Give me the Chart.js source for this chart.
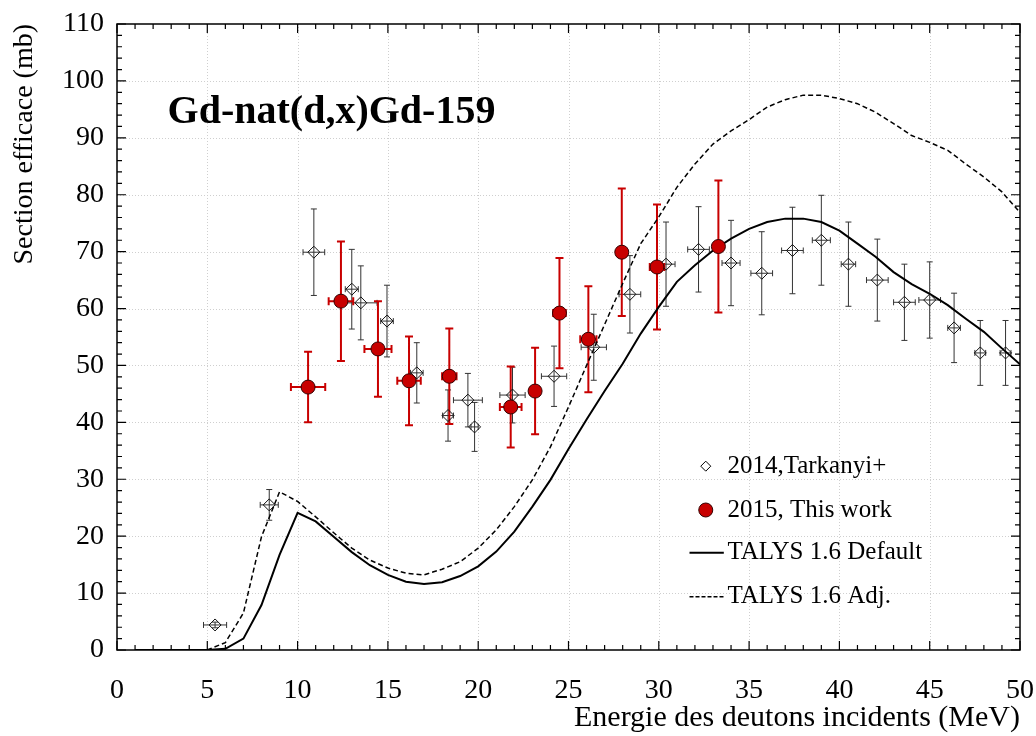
<!DOCTYPE html>
<html>
<head>
<meta charset="utf-8">
<script src="https://cdn.jsdelivr.net/npm/chart.js@4.4.1/dist/chart.umd.min.js"></script>
<style>
html, body { margin: 0; padding: 0; background: #fff; }
</style>
</head>
<body>
<canvas id="chart" width="1036" height="736"></canvas>
<script>
// TALYS 1.6 curves, 1 MeV steps
const talysE = [1, 2, 3, 4, 5, 6, 7, 8, 9, 10, 11, 12, 13, 14, 15, 16, 17, 18, 19, 20,
    21, 22, 23, 24, 25, 26, 27, 28, 29, 30, 31, 32, 33, 34, 35, 36, 37, 38, 39, 40,
    41, 42, 43, 44, 45, 46, 47, 48, 49, 50];
const talysDefault = [0, 0, 0, 0, 0, 0.2, 2.0, 7.9, 16.7, 24.1, 22.6, 19.9, 17.2, 14.9, 13.2, 12.0, 11.6, 11.9, 13.0, 14.7,
    17.3, 20.8, 25.2, 29.9, 35.3, 40.5, 45.5, 50.3, 55.6, 60.3, 64.7, 67.6, 70.2, 72.3, 74.0, 75.2, 75.8, 75.8, 75.2, 73.7,
    71.4, 69.1, 66.4, 64.3, 62.6, 60.6, 58.2, 55.9, 53.0, 50.2];
const talysAdj = [0, 0, 0, 0, 0, 1.3, 6.5, 19.9, 27.8, 26.1, 23.4, 20.6, 17.9, 15.8, 14.4, 13.5, 13.2, 14.2, 15.5, 17.9,
    21.1, 25.2, 29.9, 35.7, 42.7, 50.0, 57.2, 64.4, 71.4, 76.1, 81.3, 85.4, 88.9, 91.2, 93.2, 95.4, 96.7, 97.5, 97.5, 96.9,
    96.0, 94.5, 92.5, 90.4, 89.2, 87.8, 85.4, 83.1, 80.5, 76.9];

// 2014, Tarkanyi+
const tarkanyiE = [5.43, 8.43, 10.9, 13.0, 13.5, 14.95, 16.6, 18.33, 19.43, 19.8, 21.9, 24.2, 26.4, 28.4,
    30.4, 32.2, 34.0, 35.7, 37.4, 39.0, 40.5, 42.1, 43.6, 45.0, 46.35, 47.8, 49.2];
const tarkanyiCS = [4.4, 25.5, 69.9, 63.4, 61.0, 57.8, 48.7, 41.2, 43.9, 39.2, 44.8, 48.1, 53.2, 62.5,
    67.8, 70.4, 68.0, 66.2, 70.2, 72.0, 67.8, 65.0, 61.1, 61.5, 56.6, 52.2, 52.2];
const tarkanyiDE = [0.64, 0.5, 0.6, 0.36, 0.9, 0.35, 0.35, 0.3, 0.8, 0.2, 0.7, 0.7, 0.7, 0.6,
    0.5, 0.6, 0.5, 0.6, 0.6, 0.5, 0.4, 0.6, 0.6, 0.6, 0.35, 0.3, 0.3];
const tarkanyiDCS = [0.5, 2.7, 7.6, 7.0, 6.5, 6.3, 5.3, 4.5, 4.7, 4.3, 4.9, 5.3, 5.8, 6.8,
    7.4, 7.5, 7.5, 7.3, 7.6, 7.9, 7.4, 7.2, 6.7, 6.7, 6.1, 5.7, 5.7];

// 2015, This work
const workE = [10.58, 12.4, 14.45, 16.17, 18.4, 21.8, 23.15, 24.5, 26.1, 27.95, 29.9, 33.3];
const workCS = [46.2, 61.3, 52.9, 47.3, 48.1, 42.7, 45.5, 59.2, 54.6, 69.9, 67.3, 70.9];
const workDE = [0.95, 0.68, 0.75, 0.65, 0.4, 0.6, 0.1, 0.35, 0.45, 0.1, 0.4, 0.1];
const workDCS = [6.2, 10.5, 8.4, 7.8, 8.4, 7.1, 7.6, 9.7, 9.3, 11.2, 11.0, 11.6];

const titleText = 'Gd-nat(d,x)Gd-159';
const legendLabels = ['2014,Tarkanyi+', '2015, This work', 'TALYS 1.6 Default', 'TALYS 1.6 Adj.'];

const serif = "'Liberation Serif', 'Times New Roman', serif";
const red = '#c80000';

function to_points(xs, ys) {
    return xs.map((v, i) => ({x: v, y: ys[i]}));
}

function draw_error_bars(ctx, x, y, es, cs, des, dcs, color, width, cap) {
    ctx.save();
    ctx.strokeStyle = color;
    ctx.lineWidth = width;
    ctx.beginPath();
    for (let i = 0; i < es.length; i++) {
        const px = x.getPixelForValue(es[i]);
        const py = y.getPixelForValue(cs[i]);
        const x0 = x.getPixelForValue(es[i] - des[i]);
        const x1 = x.getPixelForValue(es[i] + des[i]);
        const y0 = y.getPixelForValue(cs[i] - dcs[i]);
        const y1 = y.getPixelForValue(cs[i] + dcs[i]);
        ctx.moveTo(px, y0); ctx.lineTo(px, y1);
        ctx.moveTo(px - cap, y0); ctx.lineTo(px + cap, y0);
        ctx.moveTo(px - cap, y1); ctx.lineTo(px + cap, y1);
        if (x1 - x0 > 4) {
            ctx.moveTo(x0, py); ctx.lineTo(x1, py);
            ctx.moveTo(x0, py - cap); ctx.lineTo(x0, py + cap);
            ctx.moveTo(x1, py - cap); ctx.lineTo(x1, py + cap);
        }
    }
    ctx.stroke();
    ctx.restore();
}

const underlay = {
    id: 'underlay',
    beforeDatasetsDraw(chart) {
        const {ctx, chartArea: a, scales: {x, y}} = chart;
        ctx.save();
        ctx.strokeStyle = '#cfcfcf';
        ctx.lineWidth = 1;
        ctx.setLineDash([1, 2]);
        ctx.beginPath();
        for (let v = 5; v < 50; v += 5) {
            const px = Math.round(x.getPixelForValue(v)) + 0.5;
            ctx.moveTo(px, a.top); ctx.lineTo(px, a.bottom);
        }
        for (let v = 10; v < 110; v += 10) {
            const py = Math.round(y.getPixelForValue(v)) + 0.5;
            ctx.moveTo(a.left, py); ctx.lineTo(a.right, py);
        }
        ctx.stroke();
        ctx.restore();
        draw_error_bars(ctx, x, y, tarkanyiE, tarkanyiCS, tarkanyiDE, tarkanyiDCS, '#333', 1, 3);
        draw_error_bars(ctx, x, y, workE, workCS, workDE, workDCS, red, 2, 4);
    }
};

const frame = {
    id: 'frame',
    afterDatasetsDraw(chart) {
        const {ctx, chartArea: a, scales: {x, y}} = chart;
        ctx.save();
        ctx.strokeStyle = '#000';
        ctx.lineWidth = 1.5;
        ctx.strokeRect(a.left, a.top, a.right - a.left, a.bottom - a.top);
        ctx.lineWidth = 1.2;
        ctx.beginPath();
        for (let v = 0; v <= 50; v += 1) {
            const px = x.getPixelForValue(v);
            const len = v % 5 === 0 ? 9 : 5;
            ctx.moveTo(px, a.bottom); ctx.lineTo(px, a.bottom - len);
            ctx.moveTo(px, a.top); ctx.lineTo(px, a.top + len);
        }
        for (let v = 0; v <= 110; v += 2) {
            const py = y.getPixelForValue(v);
            const len = v % 10 === 0 ? 9 : 5;
            ctx.moveTo(a.left, py); ctx.lineTo(a.left + len, py);
            ctx.moveTo(a.right, py); ctx.lineTo(a.right - len, py);
        }
        ctx.stroke();

        // title inside the plot
        ctx.fillStyle = '#000';
        ctx.font = 'bold 40px ' + serif;
        ctx.textBaseline = 'middle';
        ctx.textAlign = 'left';
        ctx.fillText(titleText, x.getPixelForValue(2.8), y.getPixelForValue(94.5));

        // legend
        const lx = x.getPixelForValue(32.6);
        const tx = x.getPixelForValue(33.8);
        const ly = [32.3, 24.6, 17.1, 9.35].map(v => y.getPixelForValue(v));
        ctx.font = '25px ' + serif;
        ctx.fillStyle = '#000';
        legendLabels.forEach((t, i) => ctx.fillText(t, tx, ly[i]));

        ctx.lineWidth = 1;
        ctx.strokeStyle = '#000';
        ctx.fillStyle = '#fff';
        ctx.beginPath();
        ctx.moveTo(lx, ly[0] - 5); ctx.lineTo(lx + 5, ly[0]);
        ctx.lineTo(lx, ly[0] + 5); ctx.lineTo(lx - 5, ly[0]); ctx.closePath();
        ctx.fill(); ctx.stroke();

        ctx.fillStyle = red;
        ctx.strokeStyle = '#300';
        ctx.beginPath();
        ctx.arc(lx, ly[1], 7, 0, Math.PI * 2);
        ctx.fill(); ctx.stroke();

        const l0 = x.getPixelForValue(31.7);
        const l1 = x.getPixelForValue(33.6);
        ctx.strokeStyle = '#000';
        ctx.lineWidth = 2;
        ctx.beginPath();
        ctx.moveTo(l0, ly[2]); ctx.lineTo(l1, ly[2]);
        ctx.stroke();
        ctx.lineWidth = 1.5;
        ctx.setLineDash([4, 2]);
        ctx.beginPath();
        ctx.moveTo(l0, ly[3]); ctx.lineTo(l1, ly[3]);
        ctx.stroke();
        ctx.restore();
    }
};

const chart_data = {
    datasets: [
        {
            label: legendLabels[1],
            data: to_points(workE, workCS),
            pointStyle: 'circle',
            pointRadius: 7,
            backgroundColor: red,
            borderColor: '#300',
            borderWidth: 1,
            showLine: false,
            order: 0,
        },
        {
            label: legendLabels[0],
            data: to_points(tarkanyiE, tarkanyiCS),
            pointStyle: 'rectRot',
            pointRadius: 6,
            backgroundColor: 'rgba(255,255,255,0)',
            borderColor: '#111',
            borderWidth: 1,
            showLine: false,
            order: 1,
        },
        {
            label: legendLabels[2],
            data: to_points(talysE, talysDefault),
            showLine: true,
            borderColor: '#000',
            borderWidth: 2,
            pointRadius: 0,
            order: 2,
        },
        {
            label: legendLabels[3],
            data: to_points(talysE, talysAdj),
            showLine: true,
            borderColor: '#000',
            borderWidth: 1.5,
            borderDash: [5, 3],
            pointRadius: 0,
            order: 3,
        },
    ]
};

const chart_config = {
    type: 'scatter',
    data: chart_data,
    options: {
        responsive: false,
        animation: false,
        devicePixelRatio: 1,
        layout: {padding: {top: 24, right: 16, left: 0, bottom: 0}},
        plugins: {
            legend: {display: false},
            tooltip: {enabled: false},
        },
        scales: {
            x: {
                type: 'linear',
                min: 0,
                max: 50,
                grid: {display: false, drawTicks: false},
                border: {display: false},
                ticks: {stepSize: 5, padding: 24, color: '#000', font: {family: serif, size: 28}},
                title: {
                    display: true,
                    text: 'Energie des deutons incidents (MeV)',
                    align: 'end',
                    color: '#000',
                    font: {family: serif, size: 30},
                    padding: {top: 0, bottom: 0},
                },
                afterFit: function (scale) {
                    scale.height = 86;
                    scale.paddingLeft = 0;
                    scale.paddingRight = 0;
                },
            },
            y: {
                type: 'linear',
                min: 0,
                max: 110,
                grid: {display: false, drawTicks: false},
                border: {display: false},
                ticks: {stepSize: 10, padding: 13, color: '#000', font: {family: serif, size: 28}},
                title: {
                    display: true,
                    text: 'Section efficace (mb)',
                    align: 'end',
                    color: '#000',
                    font: {family: serif, size: 28},
                    padding: {top: 8, bottom: 0},
                },
                afterFit: function (scale) {
                    scale.width = 117;
                    scale.paddingTop = 0;
                    scale.paddingBottom = 0;
                },
            },
        },
    },
    plugins: [underlay, frame],
};

const chart = new Chart(document.getElementById('chart'), chart_config);
</script>
</body>
</html>
